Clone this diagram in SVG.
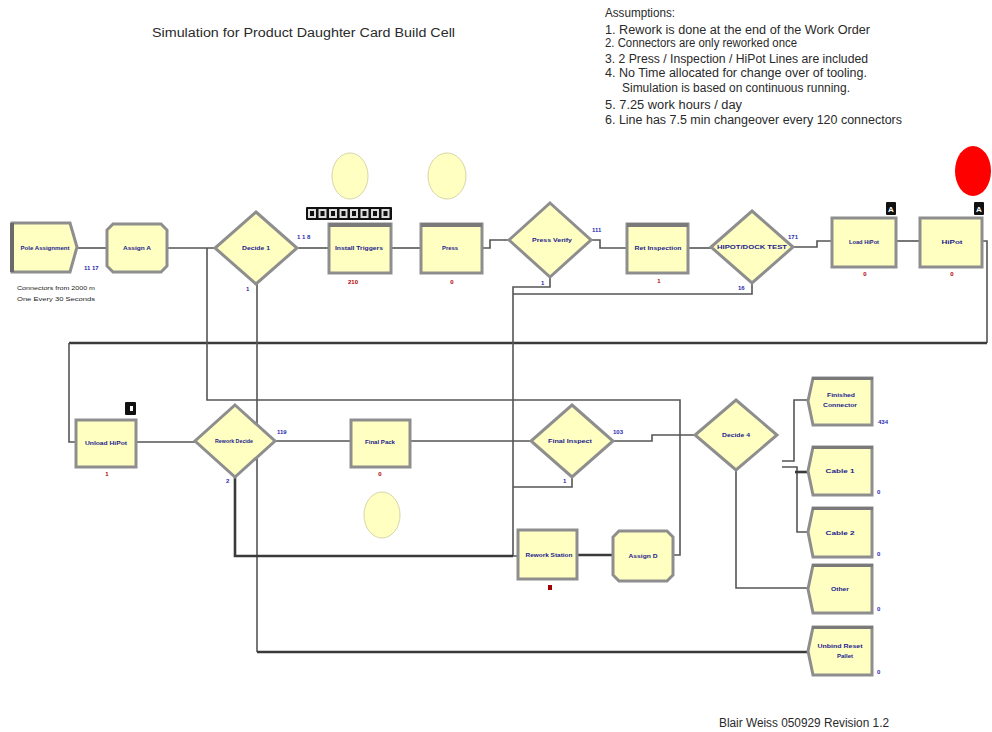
<svg xmlns="http://www.w3.org/2000/svg" width="992" height="732" viewBox="0 0 992 732">
  <style>
    .bg { fill: #ffffff; }
    .box { fill: #FFFFC2; stroke: #8e8e8e; stroke-width: 3; }
    .bar { fill: #7a7a7a; }
    .dia { fill: #FFFFC2; stroke: #8e8e8e; stroke-width: 3; stroke-linejoin: miter; }
    .lbl { font-family: "Liberation Sans", Arial, sans-serif; font-size: 6px; font-weight: bold; fill: #1c1c8e; text-anchor: middle; }
    .cnt { font-family: "Liberation Sans", Arial, sans-serif; font-size: 6px; font-weight: bold; fill: #2a2ab0; }
    .red { font-family: "Liberation Sans", Arial, sans-serif; font-size: 6px; font-weight: bold; fill: #b00000; text-anchor: middle; }
    .note { font-family: "Liberation Sans", Arial, sans-serif; font-size: 12px; fill: #2a2a2a; }
    .tiny { font-family: "Liberation Sans", Arial, sans-serif; font-size: 5.5px; fill: #222222; }
    .c { fill: none; stroke: #555555; stroke-width: 1.6; }
    .ct { fill: none; stroke: #3a3a3a; stroke-width: 2.6; }
    .res { fill: #FFFFC2; stroke: #d6d6a8; stroke-width: 1; }
    .badge { fill: #111111; }
    .btxt { font-family: "Liberation Sans", Arial, sans-serif; font-size: 8px; font-weight: bold; fill: #ffffff; text-anchor: middle; }
  </style>

  <rect class="bg" x="0" y="0" width="992" height="732"/>

  <!-- title, notes and footer -->
  <text class="note" x="152" y="37" font-size="13" textLength="303" lengthAdjust="spacingAndGlyphs" fill="#333">Simulation for Product Daughter Card Build Cell</text>
  <g id="assumptions">
    <text class="note" x="605" y="17" textLength="70" lengthAdjust="spacingAndGlyphs">Assumptions:</text>
    <text class="note" x="605" y="34" textLength="265" lengthAdjust="spacingAndGlyphs">1. Rework is done at the end of the Work Order</text>
    <text class="note" x="605" y="47" textLength="192" lengthAdjust="spacingAndGlyphs">2. Connectors are only reworked once</text>
    <text class="note" x="605" y="63" textLength="263" lengthAdjust="spacingAndGlyphs" fill="#808080">3. 2 Press / Inspection / HiPot Lines are included</text>
    <text class="note" x="605" y="77" textLength="262" lengthAdjust="spacingAndGlyphs">4. No Time allocated for change over of tooling.</text>
    <text class="note" x="622" y="92" textLength="228" lengthAdjust="spacingAndGlyphs">Simulation is based on continuous running.</text>
    <text class="note" x="605" y="109" textLength="137" lengthAdjust="spacingAndGlyphs">5. 7.25 work hours / day</text>
    <text class="note" x="605" y="124" textLength="297" lengthAdjust="spacingAndGlyphs">6. Line has 7.5 min changeover every 120 connectors</text>
  </g>
  <text class="note" x="719" y="727" textLength="170" lengthAdjust="spacingAndGlyphs">Blair Weiss 050929 Revision 1.2</text>

  <!-- connectors -->
  <g id="connectors">
    <path class="c" d="M77 248 H107"/>
    <path class="c" d="M167 248 H215"/>
    <path class="c" d="M297 248 H329"/>
    <path class="c" d="M391 248 H421"/>
    <path class="c" d="M482 248 H490 V240 H509"/>
    <path class="c" d="M591 240 H600 V248 H627"/>
    <path class="c" d="M688 248 H711"/>
    <path class="c" d="M793 247 H817 V241 H832"/>
    <path class="c" d="M897 241 H920"/>
    <path class="c" d="M982 241 H987 V343"/>
    <path class="ct" d="M987 343 H69"/>
    <path class="c" d="M69 343 V442 H75"/>
    <path class="c" d="M136 442 H195"/>
    <path class="c" d="M275 441 H351"/>
    <path class="c" d="M410 441 H531"/>
    <path class="c" d="M613 441 H652 V435 H695"/>
    <path class="c" d="M782 461 H794 V400 H807"/>
    <path class="c" d="M782 467 H797 V532 H807"/>
    <path class="ct" d="M795 472 H807"/>
    <path class="c" d="M736 470 V588 H808"/>
    <path class="c" d="M257 284 V652"/>
    <path class="ct" d="M257 652 H808"/>
    <path class="c" d="M550 277 V287 H513 V556 H518"/>
    <path class="c" d="M752 283 V294 H513"/>
    <path class="c" d="M572 477 V487 H513"/>
    <path class="ct" d="M235 477 V556 H513"/>
    <path class="ct" d="M577 555 H613"/>
    <path class="c" d="M673 555 H680 V400 H207 V248"/>
  </g>

  <!-- top row -->
  <g id="create">
    <polygon points="12,223 70,223 77,247 70,272 12,272" fill="#FFFFC2" stroke="#8e8e8e" stroke-width="3"/>
    <line x1="12" y1="223" x2="12" y2="272" stroke="#6a6a6a" stroke-width="4"/>
    <text class="lbl" x="45" y="250" textLength="49" lengthAdjust="spacingAndGlyphs">Pole Assignment</text>
    <text class="cnt" x="84" y="270">11 17</text>
    <text class="tiny" x="17" y="290" textLength="78" lengthAdjust="spacingAndGlyphs">Connectors from 2000 m</text>
    <text class="tiny" x="17" y="301" textLength="78" lengthAdjust="spacingAndGlyphs">One Every 30 Seconds</text>
  </g>
  <g id="assignA">
    <polygon points="113,224 161,224 167,230 167,266 161,272 113,272 107,266 107,230" fill="#FFFFC2" stroke="#8e8e8e" stroke-width="3"/>
    <text class="lbl" x="137" y="250" textLength="28" lengthAdjust="spacingAndGlyphs">Assign A</text>
  </g>
  <g id="decide1">
    <polygon class="dia" points="256,212 297,248 256,284 215,248"/>
    <text class="lbl" x="256" y="250" textLength="28" lengthAdjust="spacingAndGlyphs">Decide 1</text>
    <text class="cnt" x="297" y="239">1 1 8</text>
    <text class="cnt" x="246" y="291">1</text>
  </g>
  <g id="install">
    <ellipse class="res" cx="350" cy="176" rx="18" ry="23"/>
    <rect class="badge" x="306" y="207" width="86" height="13" rx="1"/>
    <g fill="#dddddd">
      <rect x="308" y="209" width="8" height="9"/><rect x="318.5" y="209" width="8" height="9"/>
      <rect x="329" y="209" width="8" height="9"/><rect x="339.5" y="209" width="8" height="9"/>
      <rect x="350" y="209" width="8" height="9"/><rect x="360.5" y="209" width="8" height="9"/>
      <rect x="371" y="209" width="8" height="9"/><rect x="381.5" y="209" width="8" height="9"/>
    </g>
    <g fill="#111111">
      <rect x="310" y="211" width="4" height="5"/><rect x="320.5" y="211" width="4" height="5"/>
      <rect x="331" y="211" width="4" height="5"/><rect x="341.5" y="211" width="4" height="5"/>
      <rect x="352" y="211" width="4" height="5"/><rect x="362.5" y="211" width="4" height="5"/>
      <rect x="373" y="211" width="4" height="5"/><rect x="383.5" y="211" width="4" height="5"/>
    </g>
    <rect class="box" x="329" y="224" width="62" height="49"/>
    <rect class="bar" x="329" y="223" width="62" height="4"/>
    <text class="lbl" x="359" y="250" textLength="48" lengthAdjust="spacingAndGlyphs">Install Triggers</text>
    <text class="red" x="353" y="284">210</text>
  </g>
  <g id="press">
    <ellipse class="res" cx="447" cy="176" rx="19" ry="23"/>
    <rect class="box" x="421" y="224" width="61" height="49"/>
    <rect class="bar" x="421" y="223" width="61" height="4"/>
    <text class="lbl" x="450" y="250" textLength="16" lengthAdjust="spacingAndGlyphs">Press</text>
    <text class="red" x="452" y="284">0</text>
  </g>
  <g id="pressVerify">
    <polygon class="dia" points="550,203 591,240 550,277 509,240"/>
    <text class="lbl" x="552" y="242" textLength="40" lengthAdjust="spacingAndGlyphs">Press Verify</text>
    <text class="cnt" x="592" y="232">111</text>
    <text class="cnt" x="541" y="285">1</text>
  </g>
  <g id="retInspection">
    <rect class="box" x="627" y="224" width="61" height="49"/>
    <rect class="bar" x="627" y="223" width="61" height="4"/>
    <text class="lbl" x="658" y="250" textLength="47" lengthAdjust="spacingAndGlyphs">Ret Inspection</text>
    <text class="red" x="659" y="283">1</text>
  </g>
  <g id="hipotTest">
    <polygon class="dia" points="752,211 793,247 752,283 711,247"/>
    <text class="lbl" x="752" y="249" textLength="70" lengthAdjust="spacingAndGlyphs">HIPOT/DOCK TEST</text>
    <text class="cnt" x="788" y="239">171</text>
    <text class="cnt" x="738" y="290">16</text>
  </g>
  <g id="loadHipot">
    <rect class="box" x="832" y="218" width="64" height="49"/>
    <rect class="badge" x="886" y="202" width="10" height="13" rx="1"/>
    <text class="btxt" x="891" y="212">A</text>
    <text class="lbl" x="864" y="244" textLength="30" lengthAdjust="spacingAndGlyphs">Load HiPot</text>
    <text class="red" x="865" y="276">0</text>
  </g>
  <g id="hipot">
    <ellipse cx="973" cy="171" rx="18" ry="25" fill="#ff0000"/>
    <rect class="box" x="920" y="218" width="62" height="49"/>
    <rect class="badge" x="974" y="202" width="10" height="13" rx="1"/>
    <text class="btxt" x="979" y="212">A</text>
    <text class="lbl" x="952" y="244" textLength="21" lengthAdjust="spacingAndGlyphs">HiPot</text>
    <text class="red" x="952" y="276">0</text>
  </g>

  <!-- second row -->
  <g id="unloadHipot">
    <rect class="box" x="76" y="420" width="60" height="47"/>
    <rect class="badge" x="125" y="402" width="11" height="13" rx="1"/>
    <rect x="130" y="406" width="3" height="5" fill="#ffffff"/>
    <text class="lbl" x="106" y="445" textLength="42" lengthAdjust="spacingAndGlyphs">Unload HiPot</text>
    <text class="red" x="107" y="476">1</text>
  </g>
  <g id="decide2">
    <polygon class="dia" points="235,405 275,441 235,477 195,441"/>
    <text class="lbl" x="234" y="443" textLength="38" lengthAdjust="spacingAndGlyphs">Rework Decide</text>
    <text class="cnt" x="277" y="434">119</text>
    <text class="cnt" x="226" y="483">2</text>
  </g>
  <g id="finalPack">
    <ellipse class="res" cx="382" cy="515" rx="18" ry="23"/>
    <rect class="box" x="351" y="420" width="59" height="47"/>
    <text class="lbl" x="380" y="444" textLength="30" lengthAdjust="spacingAndGlyphs">Final Pack</text>
    <text class="red" x="380" y="476">0</text>
  </g>
  <g id="finalInspect">
    <polygon class="dia" points="572,405 613,441 572,477 531,441"/>
    <text class="lbl" x="570" y="443" textLength="44" lengthAdjust="spacingAndGlyphs">Final Inspect</text>
    <text class="cnt" x="613" y="434">103</text>
    <text class="cnt" x="563" y="483">1</text>
  </g>
  <g id="decide4">
    <polygon class="dia" points="736,400 777,435 736,470 695,435"/>
    <text class="lbl" x="736" y="437" textLength="28" lengthAdjust="spacingAndGlyphs">Decide 4</text>
  </g>

  <!-- rework loop -->
  <g id="reworkStation">
    <rect class="box" x="518" y="530" width="59" height="49"/>
    <text class="lbl" x="549" y="557" textLength="47" lengthAdjust="spacingAndGlyphs">Rework Station</text>
    <rect x="548" y="585" width="4" height="5" fill="#a00000"/>
  </g>
  <g id="assignD">
    <polygon points="619,531 667,531 673,537 673,575 667,581 619,581 613,575 613,537" fill="#FFFFC2" stroke="#8e8e8e" stroke-width="3"/>
    <text class="lbl" x="643" y="558" textLength="29" lengthAdjust="spacingAndGlyphs">Assign D</text>
  </g>

  <!-- disposals -->
  <g id="disposeFinished">
    <polygon points="813,378 872,378 872,425 813,425 808,401" fill="#FFFFC2" stroke="#8e8e8e" stroke-width="3"/>
    <rect class="bar" x="812" y="377" width="61" height="3"/>
    <text class="lbl" x="841" y="397" textLength="28" lengthAdjust="spacingAndGlyphs">Finished</text>
    <text class="lbl" x="840" y="407" textLength="34" lengthAdjust="spacingAndGlyphs">Connector</text>
    <text class="cnt" x="878" y="424">434</text>
  </g>
  <g id="disposeCable1">
    <polygon points="813,447 872,447 872,495 813,495 808,471" fill="#FFFFC2" stroke="#8e8e8e" stroke-width="3"/>
    <rect class="bar" x="812" y="446" width="61" height="3"/>
    <text class="lbl" x="840" y="473" textLength="29" lengthAdjust="spacingAndGlyphs">Cable 1</text>
    <text class="cnt" x="877" y="494">0</text>
  </g>
  <g id="disposeCable2">
    <polygon points="813,508 872,508 872,557 813,557 808,532" fill="#FFFFC2" stroke="#8e8e8e" stroke-width="3"/>
    <rect class="bar" x="812" y="507" width="61" height="3"/>
    <text class="lbl" x="840" y="535" textLength="29" lengthAdjust="spacingAndGlyphs">Cable 2</text>
    <text class="cnt" x="877" y="556">0</text>
  </g>
  <g id="disposeOther">
    <polygon points="813,565 872,565 872,613 813,613 808,589" fill="#FFFFC2" stroke="#8e8e8e" stroke-width="3"/>
    <rect class="bar" x="812" y="564" width="61" height="3"/>
    <text class="lbl" x="840" y="591" textLength="18" lengthAdjust="spacingAndGlyphs">Other</text>
    <text class="cnt" x="877" y="611">0</text>
  </g>
  <g id="disposeUnbind">
    <polygon points="813,627 872,627 872,675 813,675 808,651" fill="#FFFFC2" stroke="#8e8e8e" stroke-width="3"/>
    <rect class="bar" x="812" y="626" width="61" height="3"/>
    <text class="lbl" x="840" y="648" textLength="45" lengthAdjust="spacingAndGlyphs">Unbind Reset</text>
    <text class="lbl" x="845" y="658" textLength="16" lengthAdjust="spacingAndGlyphs">Pallet</text>
    <text class="cnt" x="877" y="674">0</text>
  </g>
</svg>
